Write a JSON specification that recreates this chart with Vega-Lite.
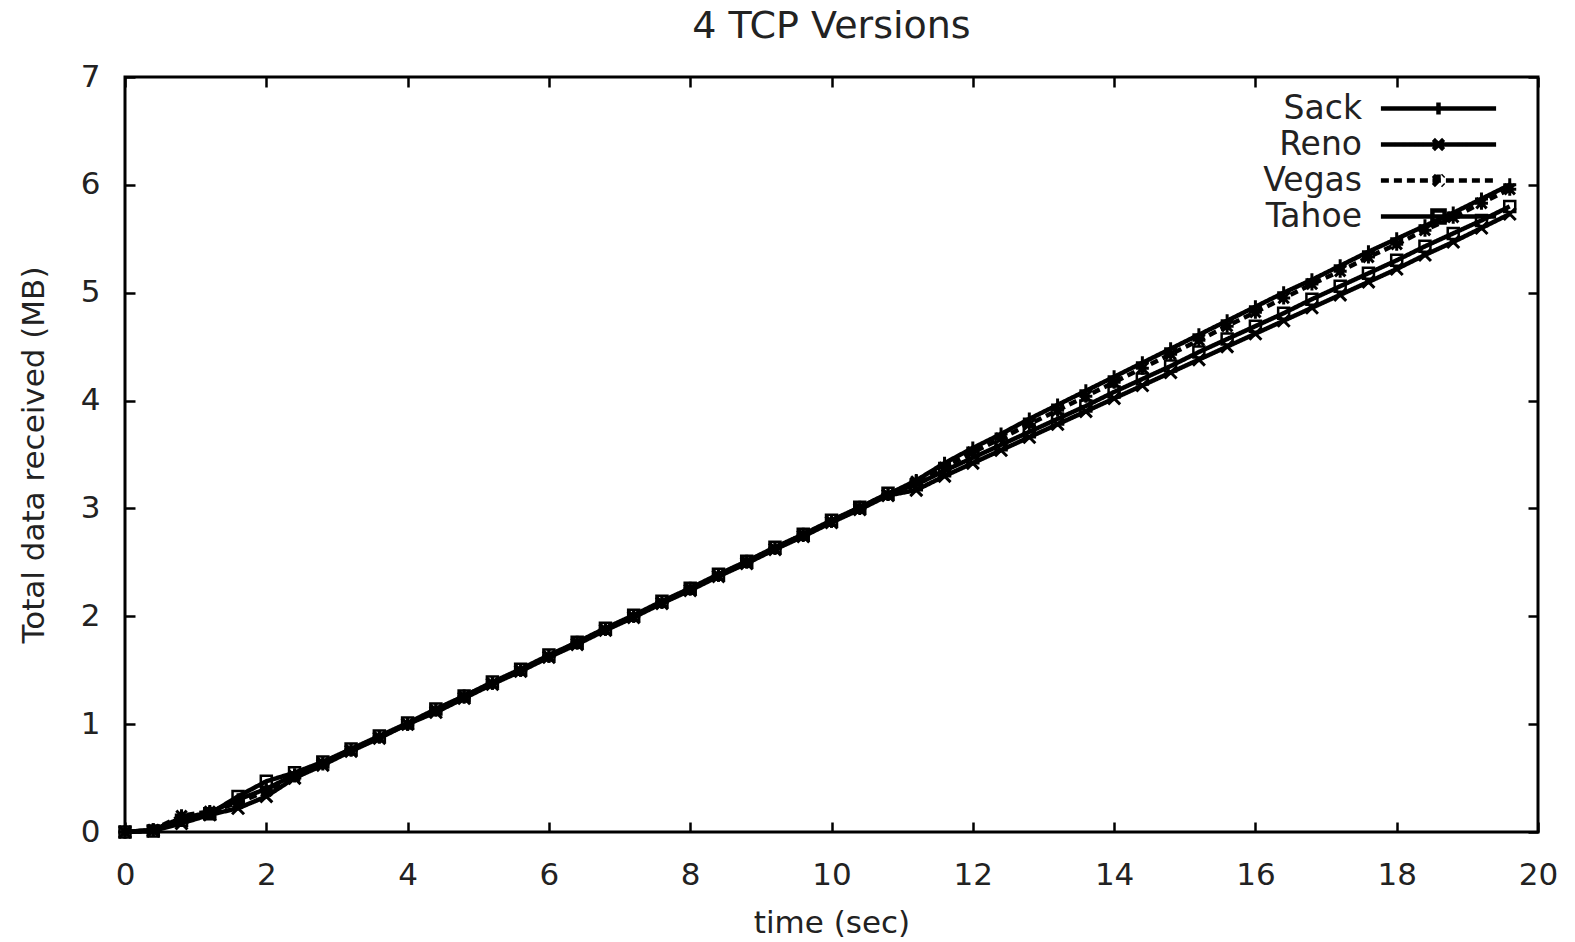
{
  "$schema": "https://vega.github.io/schema/vega-lite/v6.json",
  "width": 1413,
  "height": 755,
  "autosize": {"type": "none"},
  "padding": {"left": 125, "top": 77, "right": 37, "bottom": 110},
  "background": "white",
  "title": {"text": "4 TCP Versions", "font": "DejaVu Sans", "fontSize": 38, "fontWeight": "normal", "color": "#222", "anchor": "middle", "offset": 15},
  "config": {
    "font": "DejaVu Sans",
    "view": {"stroke": "black", "strokeWidth": 3},
    "axis": {
      "grid": false,
      "domain": false,
      "tickSize": -10,
      "tickWidth": 2.5,
      "tickColor": "black",
      "labelFlush": false,
      "labelFont": "DejaVu Sans",
      "labelFontSize": 31,
      "labelColor": "#222",
      "labelPadding": 35,
      "titleFont": "DejaVu Sans",
      "titleFontSize": 31,
      "titleFontWeight": "normal",
      "titleColor": "#222"
    }
  },
  "data": {"values": [
    {"t": 0, "Sack": 0, "Reno": 0, "Vegas": 0, "Tahoe": 0},
    {"t": 0.4, "Sack": 0.02, "Reno": 0.01, "Vegas": 0.02, "Tahoe": 0.01},
    {"t": 0.8, "Sack": 0.13, "Reno": 0.08, "Vegas": 0.15, "Tahoe": 0.11},
    {"t": 1.2, "Sack": 0.18, "Reno": 0.16, "Vegas": 0.19, "Tahoe": 0.17},
    {"t": 1.6, "Sack": 0.3, "Reno": 0.22, "Vegas": 0.27, "Tahoe": 0.33},
    {"t": 2.0, "Sack": 0.4, "Reno": 0.33, "Vegas": 0.38, "Tahoe": 0.47},
    {"t": 2.4, "Sack": 0.53, "Reno": 0.5, "Vegas": 0.52, "Tahoe": 0.55},
    {"t": 2.8, "Sack": 0.63, "Reno": 0.62, "Vegas": 0.64, "Tahoe": 0.65},
    {"t": 3.2, "Sack": 0.76, "Reno": 0.75, "Vegas": 0.76, "Tahoe": 0.77},
    {"t": 3.6, "Sack": 0.88, "Reno": 0.87, "Vegas": 0.88, "Tahoe": 0.89},
    {"t": 4.0, "Sack": 1.0, "Reno": 1.0, "Vegas": 1.0, "Tahoe": 1.01},
    {"t": 4.4, "Sack": 1.13, "Reno": 1.11, "Vegas": 1.13, "Tahoe": 1.14},
    {"t": 4.8, "Sack": 1.25, "Reno": 1.24, "Vegas": 1.26, "Tahoe": 1.26},
    {"t": 5.2, "Sack": 1.38, "Reno": 1.37, "Vegas": 1.38, "Tahoe": 1.39},
    {"t": 5.6, "Sack": 1.5, "Reno": 1.49, "Vegas": 1.5, "Tahoe": 1.51},
    {"t": 6.0, "Sack": 1.63, "Reno": 1.62, "Vegas": 1.63, "Tahoe": 1.64},
    {"t": 6.4, "Sack": 1.75, "Reno": 1.74, "Vegas": 1.76, "Tahoe": 1.76},
    {"t": 6.8, "Sack": 1.88, "Reno": 1.87, "Vegas": 1.88, "Tahoe": 1.89},
    {"t": 7.2, "Sack": 2.0, "Reno": 1.99, "Vegas": 2.0, "Tahoe": 2.01},
    {"t": 7.6, "Sack": 2.13, "Reno": 2.12, "Vegas": 2.13, "Tahoe": 2.14},
    {"t": 8.0, "Sack": 2.25, "Reno": 2.24, "Vegas": 2.26, "Tahoe": 2.26},
    {"t": 8.4, "Sack": 2.38, "Reno": 2.37, "Vegas": 2.38, "Tahoe": 2.39},
    {"t": 8.8, "Sack": 2.5, "Reno": 2.49, "Vegas": 2.51, "Tahoe": 2.51},
    {"t": 9.2, "Sack": 2.63, "Reno": 2.62, "Vegas": 2.63, "Tahoe": 2.64},
    {"t": 9.6, "Sack": 2.75, "Reno": 2.74, "Vegas": 2.76, "Tahoe": 2.76},
    {"t": 10.0, "Sack": 2.88, "Reno": 2.87, "Vegas": 2.88, "Tahoe": 2.89},
    {"t": 10.4, "Sack": 3.0, "Reno": 2.99, "Vegas": 3.01, "Tahoe": 3.01},
    {"t": 10.8, "Sack": 3.13, "Reno": 3.12, "Vegas": 3.13, "Tahoe": 3.14},
    {"t": 11.2, "Sack": 3.26, "Reno": 3.17, "Vegas": 3.25, "Tahoe": 3.22},
    {"t": 11.6, "Sack": 3.42, "Reno": 3.3, "Vegas": 3.38, "Tahoe": 3.35},
    {"t": 12.0, "Sack": 3.56, "Reno": 3.42, "Vegas": 3.52, "Tahoe": 3.47},
    {"t": 12.4, "Sack": 3.69, "Reno": 3.54, "Vegas": 3.65, "Tahoe": 3.59},
    {"t": 12.8, "Sack": 3.83, "Reno": 3.66, "Vegas": 3.78, "Tahoe": 3.71},
    {"t": 13.2, "Sack": 3.96, "Reno": 3.78, "Vegas": 3.91, "Tahoe": 3.83},
    {"t": 13.6, "Sack": 4.09, "Reno": 3.9, "Vegas": 4.04, "Tahoe": 3.95},
    {"t": 14.0, "Sack": 4.22, "Reno": 4.02, "Vegas": 4.17, "Tahoe": 4.08},
    {"t": 14.4, "Sack": 4.35, "Reno": 4.14, "Vegas": 4.3, "Tahoe": 4.2},
    {"t": 14.8, "Sack": 4.48, "Reno": 4.26, "Vegas": 4.43, "Tahoe": 4.32},
    {"t": 15.2, "Sack": 4.61, "Reno": 4.38, "Vegas": 4.56, "Tahoe": 4.45},
    {"t": 15.6, "Sack": 4.74, "Reno": 4.5, "Vegas": 4.69, "Tahoe": 4.57},
    {"t": 16.0, "Sack": 4.87, "Reno": 4.62, "Vegas": 4.82, "Tahoe": 4.69},
    {"t": 16.4, "Sack": 5.0, "Reno": 4.74, "Vegas": 4.95, "Tahoe": 4.81},
    {"t": 16.8, "Sack": 5.12, "Reno": 4.86, "Vegas": 5.08, "Tahoe": 4.94},
    {"t": 17.2, "Sack": 5.25, "Reno": 4.98, "Vegas": 5.2, "Tahoe": 5.06},
    {"t": 17.6, "Sack": 5.38, "Reno": 5.1, "Vegas": 5.33, "Tahoe": 5.18},
    {"t": 18.0, "Sack": 5.5, "Reno": 5.22, "Vegas": 5.45, "Tahoe": 5.3},
    {"t": 18.4, "Sack": 5.62, "Reno": 5.35, "Vegas": 5.58, "Tahoe": 5.43},
    {"t": 18.8, "Sack": 5.74, "Reno": 5.47, "Vegas": 5.7, "Tahoe": 5.55},
    {"t": 19.2, "Sack": 5.87, "Reno": 5.6, "Vegas": 5.83, "Tahoe": 5.67},
    {"t": 19.6, "Sack": 6.0, "Reno": 5.73, "Vegas": 5.96, "Tahoe": 5.8}
  ]},
  "transform": [{"fold": ["Sack", "Reno", "Vegas", "Tahoe"], "as": ["series", "mb"]}],
  "encoding": {
    "x": {"field": "t", "type": "quantitative", "scale": {"domain": [0, 20], "nice": false}},
    "y": {"field": "mb", "type": "quantitative", "scale": {"domain": [0, 7], "nice": false}}
  },
  "layer": [
    {
      "mark": {"type": "line", "color": "black"},
      "encoding": {
        "x": {"field": "t", "type": "quantitative",
              "axis": {"values": [0, 2, 4, 6, 8, 10, 12, 14, 16, 18, 20], "title": "time (sec)", "labelPadding": 38, "titlePadding": 18}},
        "y": {"field": "mb", "type": "quantitative",
              "axis": {"values": [0, 1, 2, 3, 4, 5, 6, 7], "title": "Total data received (MB)", "titlePadding": 30}},
        "strokeDash": {"field": "series", "type": "nominal",
          "scale": {"domain": ["Sack", "Reno", "Vegas", "Tahoe"], "range": [[1, 0], [1, 0], [8, 5], [1, 0]]},
          "legend": {
            "title": null, "orient": "none", "legendX": 1295, "legendY": 13,
            "symbolSize": 1024, "padding": 0, "rowPadding": 0,
            "labelFont": "DejaVu Sans", "labelFontSize": 33, "labelColor": "#222",
            "labelAlign": "right", "labelOffset": -95,
            "symbolStrokeColor": "black", "symbolFillColor": "transparent",
            "encode": {"symbols": {"update": {
              "shape": {"signal": "datum.value === 'Sack' ? 'M-3.6,0H3.6M0,-0.38V0.38' : datum.value === 'Reno' ? 'M-3.6,0H3.6M-0.32,-0.32L0.32,0.32M-0.32,0.32L0.32,-0.32' : datum.value === 'Vegas' ? 'M-3.6,0H3.6M-0.38,0H0.38M0,-0.38V0.38M-0.32,-0.32L0.32,0.32M-0.32,0.32L0.32,-0.32' : 'M-3.6,0H3.6M-0.38,-0.38H0.38V0.38H-0.38Z'"},
              "strokeWidth": {"signal": "datum.value === 'Sack' || datum.value === 'Reno' ? 4.5 : datum.value === 'Vegas' ? 2.5 : 2"},
              "stroke": {"value": "black"},
              "fill": {"value": "transparent"}
            }}}
          }},
        "strokeWidth": {"field": "series", "type": "nominal",
          "scale": {"domain": ["Sack", "Reno", "Vegas", "Tahoe"], "range": [4.5, 4.5, 2.5, 2]}, "legend": null}
      }
    },
    {
      "transform": [{"filter": "datum.series === 'Sack'"}],
      "mark": {"type": "point", "filled": false, "color": "black", "strokeWidth": 3, "size": 169, "opacity": 1, "shape": "M-1,0H1M0,-1V1"},
      "encoding": {
        "x": {"field": "t", "type": "quantitative",
              "axis": {"orient": "top", "values": [0, 2, 4, 6, 8, 10, 12, 14, 16, 18, 20], "labels": false, "title": null}},
        "y": {"field": "mb", "type": "quantitative",
              "axis": {"orient": "right", "values": [0, 1, 2, 3, 4, 5, 6, 7], "labels": false, "title": null}}
      }
    },
    {
      "transform": [{"filter": "datum.series === 'Reno'"}],
      "mark": {"type": "point", "filled": false, "color": "black", "strokeWidth": 3, "size": 144, "opacity": 1, "shape": "M-1,-1L1,1M-1,1L1,-1"},
      "encoding": {
        "x": {"field": "t", "type": "quantitative", "axis": null},
        "y": {"field": "mb", "type": "quantitative", "axis": null}
      }
    },
    {
      "transform": [{"filter": "datum.series === 'Vegas'"}],
      "mark": {"type": "point", "filled": false, "color": "black", "strokeWidth": 3, "size": 169, "opacity": 1, "shape": "M-1,0H1M0,-1V1M-0.8,-0.8L0.8,0.8M-0.8,0.8L0.8,-0.8"},
      "encoding": {
        "x": {"field": "t", "type": "quantitative", "axis": null},
        "y": {"field": "mb", "type": "quantitative", "axis": null}
      }
    },
    {
      "transform": [{"filter": "datum.series === 'Tahoe'"}],
      "mark": {"type": "point", "filled": false, "color": "black", "strokeWidth": 2.5, "size": 121, "opacity": 1, "shape": "square"},
      "encoding": {
        "x": {"field": "t", "type": "quantitative", "axis": null},
        "y": {"field": "mb", "type": "quantitative", "axis": null}
      }
    }
  ],
  "resolve": {"axis": {"x": "independent", "y": "independent"}}
}
